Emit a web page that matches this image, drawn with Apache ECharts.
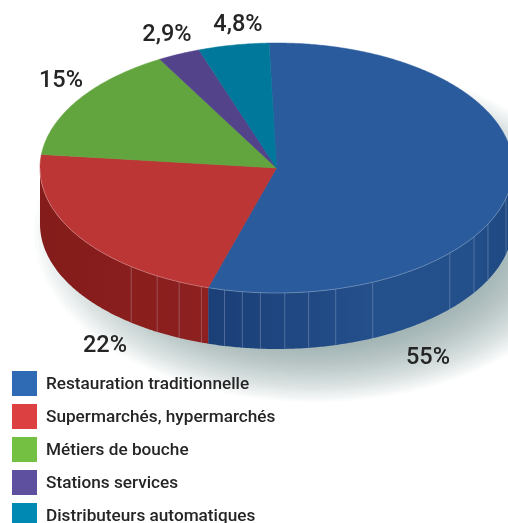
<!DOCTYPE html>
<html>
<head>
<meta charset="utf-8">
<style>html,body{margin:0;padding:0;background:#fff;overflow:hidden}#chart{width:508px;height:523px}</style>
<script src="https://cdn.jsdelivr.net/npm/echarts@6/dist/echarts.min.js"></script>
</head>
<body>
<div id="chart"></div>
<script>
// Market shares by distribution channel, as a tilted disc.
const categories = ['Restauration traditionnelle', 'Supermarchés, hypermarchés', 'Métiers de bouche', 'Stations services', 'Distributeurs automatiques'];
const shares = [55, 22, 15, 2.9, 4.8];
const units = '%';

const topColors = ['#2A5B9C', '#BC3636', '#62A53E', '#53438B', '#00789B'];
const keyColors = ['#2F6BB5', '#DC4040', '#74C043', '#5F4F9F', '#0089B3'];
const labelAnchors = [[428, 358], [105, 346], [61, 81], [167, 35], [238, 25]];

// Disc geometry: centre, radii, rim height, and where the first slice starts.
const CX = 276.5, CY = 168, RX = 236.5, RY = 125, DEPTH = 56, START = -1.8;
// Seams on the rim, in degrees clockwise from the top of the disc.
const seamAngles = [217.9, 210.3, 204.3, 198.5, 192.7, 188.3, 183.9, 178, 172.2, 165.5, 156, 132.9, 123.4, 116.6, 104];
// Soft shadow cast below the disc, built up from nested translucent ellipses.
const SHADOW = { cx: 314, cy: 232, rx: 280, ry: 170, inner: 0.66, layers: 26, alpha: 0.036 };

const total = shares.reduce((a, b) => a + b, 0);
const rad = d => d * Math.PI / 180;
const pt = (t, dy) => [CX + RX * Math.sin(rad(t)), CY - RY * Math.cos(rad(t)) + (dy || 0)];
function arc(a, b, dy) {
  const out = [], n = Math.max(2, Math.ceil(Math.abs(b - a) * 2));
  for (let i = 0; i <= n; i++) out.push(pt(a + (b - a) * i / n, dy));
  return out;
}
function sliceSpan(i) {
  let a = START;
  for (let k = 0; k < i; k++) a += shares[k] / total * 360;
  return [a, a + shares[i] / total * 360];
}
function wallFill(i) {
  if (i === 0) return new echarts.graphic.LinearGradient(0, 0, 1, 0, [
    { offset: 0, color: '#1B3F77' }, { offset: 0.55, color: '#24508C' },
    { offset: 0.85, color: '#234F8B' }, { offset: 1, color: '#1D4880' }]);
  return new echarts.graphic.LinearGradient(0, 0, 1, 0, [
    { offset: 0, color: '#831C1A' }, { offset: 1, color: '#8E2020' }]);
}
function shadowLayers() {
  const els = [];
  for (let k = 0; k < SHADOW.layers; k++) {
    const f = SHADOW.inner + (1 - SHADOW.inner) * (1 - k / (SHADOW.layers - 1));
    const pts = [];
    for (let d = 0; d < 360; d += 3) {
      pts.push([SHADOW.cx + SHADOW.rx * f * Math.cos(rad(d)), SHADOW.cy + SHADOW.ry * f * Math.sin(rad(d))]);
    }
    els.push({ type: 'polygon', silent: true, shape: { points: pts },
      style: { fill: 'rgba(112,140,146,' + SHADOW.alpha + ')' } });
  }
  return els;
}

function renderSlice(i) {
  return function () {
    const [a, b] = sliceSpan(i);
    // The first series paints first, so the shadow stays under every slice.
    const kids = i === 0 ? shadowLayers() : [];
    // Only the front half of the rim faces the viewer.
    const wa = Math.max(a, 90), wb = Math.min(b, 270);
    if (wb > wa) {
      kids.push({ type: 'polygon', shape: { points: arc(wa, wb, 0).concat(arc(wb, wa, DEPTH)) },
        style: { fill: wallFill(i) }, silent: true });
      seamAngles.filter(s => s > wa && s < wb).forEach(s => {
        const p = pt(s, 0);
        kids.push({ type: 'line', shape: { x1: p[0], y1: p[1], x2: p[0], y2: p[1] + DEPTH },
          style: { stroke: 'rgba(205,215,235,0.28)', lineWidth: 1 }, silent: true });
      });
    }
    kids.push({ type: 'polygon', shape: { points: [[CX, CY]].concat(arc(a, b, 0)) },
      style: { fill: topColors[i], stroke: topColors[i], lineWidth: 0.5 } });
    if (wb > wa) {
      kids.push({ type: 'polyline', shape: { points: arc(wa, wb, 0) },
        style: { fill: 'none', stroke: 'rgba(255,255,255,0.25)', lineWidth: 1 }, silent: true });
    }
    const la = labelAnchors[i];
    kids.push({ type: 'text', x: la[0], y: la[1], silent: true, style: {
      text: String(shares[i]).replace('.', ',') + units,
      font: '500 23.5px Roboto, sans-serif',
      fill: '#252525', align: 'center', verticalAlign: 'middle' } });
    return { type: 'group', children: kids };
  };
}

const series = categories.map((name, i) => ({
  type: 'custom', name, coordinateSystem: 'none', z: 2,
  itemStyle: { color: keyColors[i] }, renderItem: renderSlice(i), data: [[shares[i]]]
}));

const chart = echarts.init(document.getElementById('chart'), null, { renderer: 'canvas' });
chart.setOption({
  animation: false,
  backgroundColor: '#fff',
  legend: {
    data: categories.map(name => ({ name, icon: 'rect' })),
    orient: 'vertical', left: 12, top: 371, padding: 0, height: 200,
    itemWidth: 25, itemHeight: 25, itemGap: 8, selectedMode: false,
    formatter: '{entry|{name}}',
    textStyle: { rich: { entry: { color: '#252525', fontFamily: 'Roboto, sans-serif',
      fontWeight: 500, fontSize: 17.2, padding: [2, 0, 0, 4] } } }
  },
  series
});
</script>
</body>
</html>
